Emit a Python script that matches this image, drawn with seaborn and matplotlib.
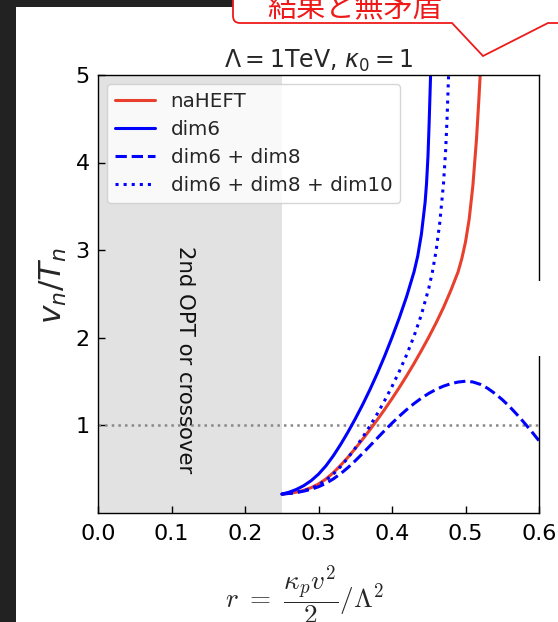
import matplotlib
matplotlib.use("Agg")
import matplotlib.pyplot as plt
import seaborn as sns
from matplotlib.patches import Rectangle, PathPatch
from matplotlib.path import Path

# --- curves: v_n/T_n as a function of r -------------------------------------
r_naheft = [0.250, 0.260, 0.270, 0.280, 0.290, 0.300, 0.310, 0.320, 0.330, 0.340,
            0.350, 0.360, 0.370, 0.380, 0.390, 0.400, 0.410, 0.420, 0.430, 0.440,
            0.450, 0.460, 0.470, 0.480, 0.490, 0.495, 0.500, 0.505, 0.510, 0.515,
            0.518, 0.520]
v_naheft = [0.21, 0.219, 0.233, 0.254, 0.284, 0.326, 0.382, 0.454, 0.538, 0.631,
            0.731, 0.836, 0.946, 1.060, 1.178, 1.301, 1.429, 1.563, 1.703, 1.851,
            2.004, 2.167, 2.342, 2.537, 2.752, 2.902, 3.092, 3.352, 3.732, 4.272,
            4.692, 5.000]

r_dim6 = [0.250, 0.260, 0.270, 0.280, 0.290, 0.300, 0.310, 0.320, 0.330, 0.340,
          0.350, 0.360, 0.370, 0.380, 0.390, 0.400, 0.410, 0.420, 0.430, 0.435,
          0.440, 0.445, 0.447, 0.449, 0.4505, 0.4515, 0.4525]
v_dim6 = [0.21, 0.232, 0.264, 0.307, 0.364, 0.438, 0.532, 0.646, 0.776, 0.918,
          1.070, 1.232, 1.405, 1.590, 1.788, 2.001, 2.226, 2.471, 2.751, 2.931,
          3.181, 3.541, 3.761, 4.081, 4.441, 4.720, 5.000]

r_dim8 = [0.250, 0.260, 0.270, 0.280, 0.290, 0.300, 0.310, 0.320, 0.330, 0.340,
          0.350, 0.360, 0.370, 0.380, 0.390, 0.400, 0.410, 0.420, 0.430, 0.440,
          0.450, 0.460, 0.470, 0.480, 0.490, 0.500, 0.510, 0.520, 0.530, 0.540,
          0.550, 0.560, 0.570, 0.580, 0.590, 0.600]
v_dim8 = [0.21, 0.218, 0.229, 0.244, 0.265, 0.294, 0.333, 0.383, 0.443, 0.513,
          0.591, 0.675, 0.762, 0.850, 0.937, 1.021, 1.101, 1.176, 1.245, 1.307,
          1.361, 1.407, 1.444, 1.472, 1.491, 1.500, 1.492, 1.465, 1.420, 1.360,
          1.290, 1.210, 1.120, 1.025, 0.925, 0.820]

r_dim10 = [0.250, 0.260, 0.270, 0.280, 0.290, 0.300, 0.310, 0.320, 0.330, 0.340,
           0.350, 0.360, 0.370, 0.380, 0.390, 0.400, 0.410, 0.420, 0.430, 0.440,
           0.450, 0.455, 0.460, 0.465, 0.470, 0.473, 0.475, 0.477]
v_dim10 = [0.21, 0.218, 0.230, 0.248, 0.275, 0.314, 0.368, 0.438, 0.524, 0.624,
           0.736, 0.858, 0.989, 1.129, 1.279, 1.440, 1.614, 1.804, 2.016, 2.261,
           2.561, 2.751, 2.991, 3.311, 3.751, 4.141, 4.521, 5.000]

labels = ["naHEFT", "dim6", "dim6 + dim8", "dim6 + dim8 + dim10"]
colors = ["#e8402c", "#0000ff", "#0000ff", "#0000ff"]
styles = ["-", "-", "--", ":"]

r_region_edge = 0.25      # below this: 2nd order PT or crossover
v_reference = 1.0         # v_n/T_n = 1 guide line
xticks = [0.0, 0.1, 0.2, 0.3, 0.4, 0.5, 0.6]
yticks = [1, 2, 3, 4, 5]

sns.set_style("ticks")
plt.rcParams.update({
    "font.family": ["DejaVu Sans"],
    "axes.edgecolor": "black",
    "axes.linewidth": 1.0,
})

W, H = 558, 622
fig = plt.figure(figsize=(W / 100, H / 100), dpi=100)
fig.patch.set_facecolor("white")


def fx(x):
    return x / W


def fy(y):
    return 1 - y / H


ax = fig.add_axes([fx(98), fy(512.5), 441 / W, 437.5 / H])

ax.axvspan(0, r_region_edge, color="#e2e2e2", lw=0, zorder=0)
ax.axhline(v_reference, color="#888888", ls=":", lw=1.8, zorder=1)

series = [(r_naheft, v_naheft), (r_dim6, v_dim6), (r_dim8, v_dim8), (r_dim10, v_dim10)]
for (rr, vv), lab, col, ls in zip(series, labels, colors, styles):
    sns.lineplot(x=rr, y=vv, ax=ax, color=col, linestyle=ls, lw=2.2,
                 label=lab, sort=False, estimator=None)

ax.text(0.118, 1.75, "2nd OPT or crossover", rotation=-90, ha="center",
        va="center", fontsize=15.3, color="#111111")

ax.set_xlim(0, 0.6)
ax.set_ylim(0, 5)
ax.set_xticks(xticks)
ax.set_xticklabels([f"{t:.1f}" for t in xticks])
ax.set_yticks(yticks)
ax.tick_params(direction="in", length=5, width=1, labelsize=16, colors="black")
ax.tick_params(axis="x", pad=8.5)
ax.tick_params(axis="y", pad=6)
for s in ax.spines.values():
    s.set_visible(True)
    s.set_color("black")

ax.set_title(r"$\Lambda = 1$TeV, $\kappa_0 = 1$", fontsize=17, pad=5)
ax.set_ylabel(r"$v_n/T_n$", fontsize=22.5)
ax.yaxis.set_label_coords(-0.066, 0.52)
ax.set_xlabel(r"$r\ =\ \dfrac{\kappa_p v^2}{2}/\Lambda^2$", fontsize=19.5,
              math_fontfamily="cm")
ax.xaxis.set_label_coords(0.468, -0.118)

leg = ax.legend(loc="upper left", fontsize=14.3, labelspacing=0.45,
                handlelength=2.0, borderaxespad=0.46, frameon=True)
leg.get_frame().set_edgecolor("#cccccc")

# window chrome around the figure
fig.add_artist(Rectangle((0, 0), fx(16), 1, transform=fig.transFigure,
                         facecolor="#222222", edgecolor="none", zorder=10))
fig.add_artist(Rectangle((0, fy(7)), fx(233), 7 / H, transform=fig.transFigure,
                         facecolor="#222222", edgecolor="none", zorder=10))

# gap in the right spine
fig.add_artist(Rectangle((fx(535), fy(356)), 10 / W, 75 / H, transform=fig.transFigure,
                         facecolor="white", edgecolor="none", zorder=10))

# callout bubble
rad = 7
pts = [(233, -5), (233, 23 - rad), (233, 23), (233 + rad, 23), (452, 23),
       (483, 56), (548, 23), (565, 23)]
codes = [Path.MOVETO, Path.LINETO, Path.CURVE3, Path.CURVE3, Path.LINETO,
         Path.LINETO, Path.LINETO, Path.LINETO]
bubble = Path([(fx(x), fy(y)) for x, y in pts], codes)
fig.add_artist(PathPatch(bubble, transform=fig.transFigure, facecolor="none",
                         edgecolor="#ee1a1a", lw=1.3, zorder=11))
fig.text(fx(355), fy(17), "結果と無矛盾", ha="center", va="baseline",
         fontsize=21, color="#ee1a1a", family=["Noto Sans CJK JP", "DejaVu Sans"],
         zorder=11)

fig.savefig("out.png", dpi=100)
